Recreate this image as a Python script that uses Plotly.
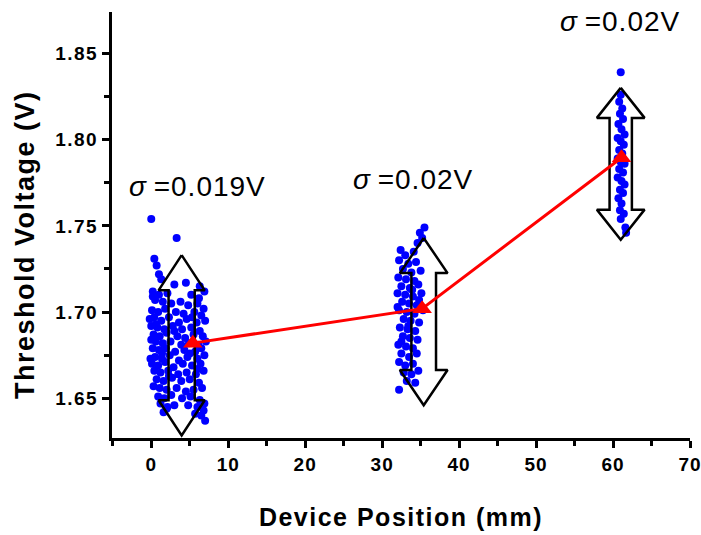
import plotly.graph_objects as go

# Threshold voltage measurements at three device positions
pos0_x = [0.0, 3.3, 0.4, 0.7, 1.0, 1.3, 3.0, 4.5, 6.3, 6.9, 0.2, 1.0, 2.1, 5.2,
          0.5, 1.5, 2.6, 3.8, 4.8, 6.0, 6.8, 0.1, 0.9, 1.8, 3.2, 4.2, 5.6, 6.5,
          0.4, 1.3, 2.3, 3.6, 4.6, 5.9, 7.0, 0.0, 0.8, 1.7, 2.8, 4.0, 5.2, 6.3,
          0.3, 1.1, 2.0, 3.4, 4.4, 5.5, 6.7, 0.6, 1.5, 2.5, 3.9, 4.9, 6.1, 7.1,
          0.2, 1.0, 1.9, 3.1, 4.3, 5.7, 6.5, 0.5, 1.4, 2.4, 3.6, 4.7, 6.0, 6.9,
          0.1, 0.9, 1.8, 2.9, 4.1, 5.3, 6.4, 0.4, 1.2, 2.2, 3.5, 4.6, 5.8, 6.8,
          0.7, 1.6, 2.7, 3.9, 5.0, 6.2, 0.3, 1.1, 2.0, 3.3, 4.5, 5.5, 6.6,
          0.9, 1.7, 2.6, 4.0, 5.1, 6.3, 1.2, 2.1, 3.0, 4.8, 6.0, 6.9,
          1.6, 2.0, 5.7, 6.5, 7.0, 6.8,
          -0.2, 0.0, -0.1, 0.2, 0.6, 1.4, 2.3, 3.0, 5.3, 6.0, 6.2, 5.0]
pos0_v = [1.754, 1.743, 1.731, 1.727, 1.722, 1.719, 1.716, 1.717, 1.715, 1.712, 1.712, 1.710, 1.711, 1.710,
          1.707, 1.706, 1.705, 1.706, 1.704, 1.705, 1.702, 1.701, 1.700, 1.702, 1.700, 1.699, 1.700, 1.698,
          1.697, 1.695, 1.697, 1.694, 1.696, 1.694, 1.695, 1.692, 1.691, 1.690, 1.692, 1.690, 1.691, 1.689,
          1.687, 1.686, 1.688, 1.686, 1.685, 1.687, 1.686, 1.683, 1.682, 1.683, 1.681, 1.682, 1.681, 1.683,
          1.679, 1.678, 1.679, 1.677, 1.678, 1.677, 1.679, 1.674, 1.673, 1.675, 1.672, 1.674, 1.673, 1.675,
          1.670, 1.669, 1.671, 1.668, 1.670, 1.669, 1.670, 1.666, 1.665, 1.666, 1.664, 1.665, 1.664, 1.666,
          1.661, 1.660, 1.662, 1.660, 1.661, 1.659, 1.657, 1.656, 1.655, 1.656, 1.654, 1.655, 1.656,
          1.651, 1.650, 1.652, 1.650, 1.651, 1.649, 1.647, 1.645, 1.646, 1.646, 1.645, 1.647,
          1.642, 1.644, 1.641, 1.640, 1.637, 1.643,
          1.696, 1.684, 1.673, 1.709, 1.693, 1.676, 1.663, 1.689, 1.697, 1.667, 1.708, 1.676]

pos1_x = [35.5, 34.9, 35.2, 34.6, 32.4, 33.0, 34.1, 32.2, 33.4, 34.4, 32.7, 33.8, 35.0, 32.1,
          33.1, 34.2, 32.5, 33.6, 34.7, 32.0, 33.0, 34.0, 35.1, 32.6, 33.5, 34.5, 32.2, 33.2,
          34.2, 35.3, 32.8, 33.7, 34.8, 32.3, 33.3, 34.3, 32.7, 33.6, 34.6, 32.1, 33.1, 34.0,
          32.5, 33.5, 34.5, 32.2, 33.0, 34.0, 32.8, 33.8, 34.7, 33.2, 34.3, 32.2,
          32.0, 33.4, 34.8, 32.5, 33.9]
pos1_v = [1.749, 1.746, 1.743, 1.740, 1.736, 1.733, 1.735, 1.730, 1.728, 1.729, 1.725, 1.723, 1.724, 1.720,
          1.719, 1.718, 1.715, 1.714, 1.716, 1.711, 1.710, 1.709, 1.711, 1.706, 1.705, 1.704, 1.701, 1.700,
          1.699, 1.701, 1.696, 1.695, 1.694, 1.691, 1.690, 1.689, 1.686, 1.685, 1.684, 1.681, 1.680, 1.679,
          1.676, 1.674, 1.676, 1.671, 1.669, 1.670, 1.665, 1.664, 1.666, 1.660, 1.659, 1.655,
          1.703, 1.692, 1.707, 1.683, 1.713]

pos2_x = [61.0, 61.0, 60.8, 61.2, 60.9, 61.3, 60.7, 61.1, 61.5, 60.6, 61.0, 61.4, 60.8, 61.2,
          60.6, 61.0, 61.5, 60.8, 61.3, 60.6, 61.1, 61.5, 60.9, 61.3, 60.7, 61.1, 60.9, 61.4,
          61.0, 61.6, 61.7]
pos2_v = [1.839, 1.826, 1.822, 1.818, 1.815, 1.812, 1.809, 1.806, 1.803, 1.801, 1.799, 1.797, 1.794, 1.792,
          1.789, 1.787, 1.786, 1.783, 1.781, 1.778, 1.776, 1.774, 1.771, 1.769, 1.766, 1.763, 1.759, 1.757,
          1.754, 1.749, 1.746]

# Mean threshold voltage per position
mean_x = [5.4, 35.2, 61.1]
mean_v = [1.682, 1.702, 1.7895]

# Spread indicators: centre position, upper/lower tips, head length (V)
arrow_x = [3.95, 35.4, 61.0]
arrow_top = [1.733, 1.743, 1.830]
arrow_bottom = [1.6285, 1.646, 1.742]
arrow_head = [0.0204, 0.0204, 0.0174]
arrow_head_half = [3.0, 3.1, 3.1]
arrow_shaft_half = [1.7, 1.6, 1.45]

sigma_labels = ["=0.019V", "=0.02V", "=0.02V"]
label_x = [-3.2, 25.9, 52.9]
label_v = [1.773, 1.7767, 1.8686]

y_ticks = [1.65, 1.70, 1.75, 1.80, 1.85]
y_ticktext = ["1.65", "1.70", "1.75", "1.80", "1.85"]
x_ticks = [0, 10, 20, 30, 40, 50, 60, 70]

FONT = "Liberation Sans, Arial, sans-serif"


def spaced(text, px):
    return f'<span style="letter-spacing:{px}px">{text}</span>'


fig = go.Figure()

all_x = pos0_x + pos1_x + pos2_x
all_v = pos0_v + pos1_v + pos2_v
fig.add_trace(go.Scatter(
    x=all_x, y=all_v, mode="markers",
    marker=dict(color="#0000ff", size=8, line=dict(width=0)),
    showlegend=False, hoverinfo="x+y"))

# Hollow double-headed arrows
for xc, yt, yb, hl, hh, sh in zip(arrow_x, arrow_top, arrow_bottom, arrow_head,
                                  arrow_head_half, arrow_shaft_half):
    px = [xc, xc + hh, xc + sh, xc + sh, xc + hh, xc, xc - hh, xc - sh, xc - sh, xc - hh, xc]
    py = [yt, yt - hl, yt - hl, yb + hl, yb + hl, yb, yb + hl, yb + hl, yt - hl, yt - hl, yt]
    fig.add_trace(go.Scatter(
        x=px, y=py, mode="lines",
        line=dict(color="black", width=2.5),
        showlegend=False, hoverinfo="skip"))

fig.add_trace(go.Scatter(
    x=mean_x, y=mean_v, mode="lines+markers",
    line=dict(color="#ff0000", width=3),
    marker=dict(symbol="triangle-up", size=17, color="#ff0000", line=dict(width=0)),
    showlegend=False))

for txt, lx, lv in zip(sigma_labels, label_x, label_v):
    fig.add_annotation(
        x=lx, y=lv, xref="x", yref="y", xanchor="left", yanchor="middle",
        text="<i>σ</i> " + spaced(txt, 1), showarrow=False,
        font=dict(family=FONT, size=28, color="black"))

# Y-axis title, placed slightly below the axis midpoint
fig.add_annotation(
    x=-0.1505, y=0.453, xref="paper", yref="paper",
    xanchor="center", yanchor="middle", textangle=-90, showarrow=False,
    text=spaced("Threshold Voltage (V)", 1.5),
    font=dict(family=FONT, size=27, weight="bold", color="black"))

fig.update_layout(
    width=701, height=535,
    margin=dict(l=112, r=11, t=12, b=97, autoexpand=False),
    paper_bgcolor="white", plot_bgcolor="white",
    font=dict(family=FONT, color="black"),
    xaxis=dict(
        range=[-5.1, 70], tickvals=x_ticks,
        ticktext=[spaced(str(t), 1) for t in x_ticks],
        ticklabeloverflow="allow", automargin=False,
        showline=True, linecolor="black", linewidth=3,
        ticks="outside", ticklen=7, tickwidth=2.5, tickcolor="black",
        minor=dict(dtick=5, tick0=5, ticks="outside", ticklen=5, tickwidth=2.5, tickcolor="black"),
        showgrid=False, zeroline=False,
        tickfont=dict(family=FONT, size=19, weight="bold"),
        title=dict(text=spaced("Device Position (mm)", 1.5), standoff=35,
                   font=dict(family=FONT, size=25, weight="bold"))),
    yaxis=dict(
        range=[1.627, 1.874], tickvals=y_ticks,
        ticktext=[spaced(t, 1.5) for t in y_ticktext],
        automargin=False,
        showline=True, linecolor="black", linewidth=3,
        ticks="outside", ticklen=7, tickwidth=2.5, tickcolor="black",
        minor=dict(dtick=0.025, tick0=1.625, ticks="outside", ticklen=5, tickwidth=2.5, tickcolor="black"),
        showgrid=False, zeroline=False,
        tickfont=dict(family=FONT, size=19, weight="bold")),
)

fig.write_html("out.html")
